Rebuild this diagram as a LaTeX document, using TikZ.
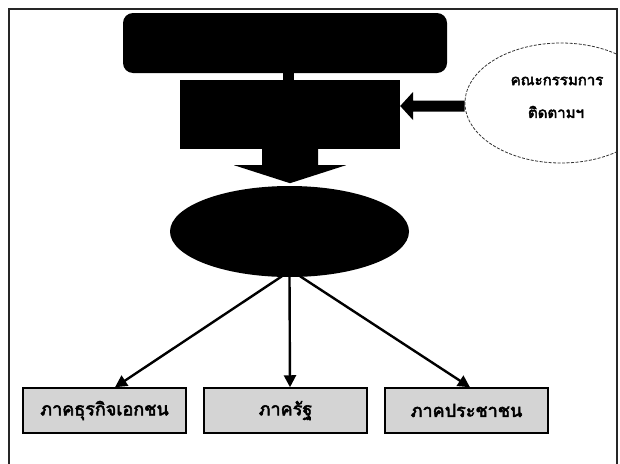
\documentclass[tikz,border=0pt]{standalone}
\usepackage{fontspec}
\newfontfamily\thai[Script=Thai,FakeBold=3]{Loma}
\usetikzlibrary{shapes.geometric,arrows.meta}
\tikzset{
  blk/.style={fill=black,draw=none},
  sector/.style={draw=black,line width=1.5pt,fill=black!17,minimum width=163pt,minimum height=45pt,inner sep=0pt,font=\thai\fontsize{18}{21}\selectfont},
  link/.style={line width=2.4pt,-{Triangle[length=12pt,width=12pt]}},
  thaitxt/.style={inner sep=0pt,font=\thai\fontsize{15}{18}\selectfont}
}
\begin{document}
\begin{tikzpicture}[x=1pt,y=-1pt]
\useasboundingbox (0,0) rectangle (620,463);
% frame
\draw[line width=1.5pt,black!85] (9,470) -- (9,9) -- (617,9) -- (617,470);
% top rounded box
\node[blk,rounded corners=10pt,minimum width=324pt,minimum height=60pt,inner sep=0pt] (top) at (285,43) {};
% second box
\node[blk,rectangle,minimum width=220pt,minimum height=69pt,inner sep=0pt] (mid) at (290,114.5) {};
% stem between
\draw[line width=11pt] ([xshift=3.5pt]top.south) -- ([xshift=3.5pt]top.south |- mid.north);
% hub ellipse
\node[blk,ellipse,minimum width=239pt,minimum height=91pt,inner sep=0pt] (hub) at (289.5,231.5) {};
% block arrow down
\fill[black] ([xshift=-28pt]mid.south) -- ++(0,16) -- ++(-28,0) -- ++(56,18) -- ++(56,-18) -- ++(-28,0) -- ++(0,-16) -- cycle;
% committee ellipse (clipped by frame)
\begin{scope}
\clip (9,0) rectangle (617,463);
\node[draw=black!80,ellipse,dash pattern=on 3pt off 1.5pt,line width=0.8pt,minimum width=192pt,minimum height=120pt,inner sep=0pt] (comm) at (561,103) {};
\end{scope}
\node[thaitxt] (c1) at (557,81) {คณะกรรมการ};
\node[thaitxt] (c2) at (556,112) {ติดตามฯ};
% block arrow left from committee to mid
\fill[black] (comm.west |- 0,100.5) -- (413,100.5) -- (413,92) -- (mid.east |- 0,106) -- (413,120) -- (413,111.5) -- (comm.west |- 0,111.5) -- cycle;
% sectors
\node[sector] (b1) at (104.5,410.5) {ภาคธุรกิจเอกชน};
\node[sector] (b2) at (285.5,410.5) {ภาครัฐ};
\node[sector] (b3) at (466.5,410.5) {ภาคประชาชน};
% arrows
\draw[link] ([xshift=-7.5pt,yshift=1pt]hub.south) -- ([xshift=10.5pt]b1.north);
\draw[link] (hub.south) -- ([xshift=4.5pt]b2.north);
\draw[link] ([xshift=10.5pt,yshift=1pt]hub.south) -- ([xshift=3.5pt]b3.north);
\end{tikzpicture}
\end{document}
